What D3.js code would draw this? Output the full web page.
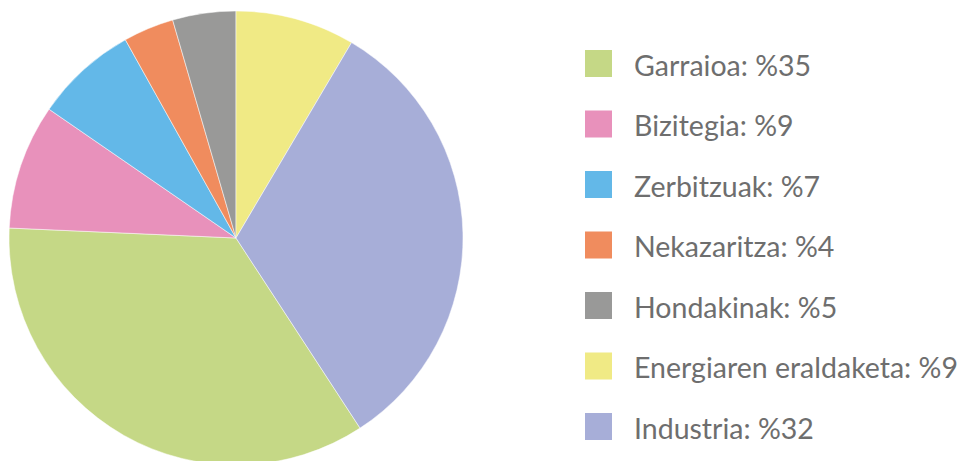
<!DOCTYPE html>
<html>
<head>
<meta charset="utf-8">
<script src="https://cdn.jsdelivr.net/npm/d3@7"></script>
<style>
  html, body { margin: 0; padding: 0; background: #fff; }
  svg { display: block; }
</style>
</head>
<body>
<div id="chart"></div>
<script>
// sektoreak (legendaren ordena)
const categories = ['Garraioa', 'Bizitegia', 'Zerbitzuak', 'Nekazaritza', 'Hondakinak', 'Energiaren eraldaketa', 'Industria'];
// irudian neurtutako angeluak (%)
const values = [34.9, 8.9, 7.3, 3.6, 4.5, 8.5, 32.3];
// legendan agertzen diren etiketak
const labels = ['%35', '%9', '%7', '%4', '%5', '%9', '%32'];
const colors = ['#c5d886', '#e891bb', '#63b8e8', '#f08c5e', '#999998', '#f0ea85', '#a7aed8'];

const data = categories.map((c, i) => ({ name: c, value: values[i], label: labels[i] }));

const width = 960, height = 461;
const cx = 236, cy = 238, radius = 227;

const svg = d3.select('#chart').append('svg')
  .attr('width', width)
  .attr('height', height);

// Garraioa hasten da Energiaren + Industriaren ondoren (goitik, erlojuaren norabidean)
const total = d3.sum(values);
const offset = (values[5] + values[6]) / total * 2 * Math.PI;

const pie = d3.pie()
  .sort(null)
  .value(d => d.value)
  .startAngle(offset)
  .endAngle(offset + 2 * Math.PI);

const arc = d3.arc().innerRadius(0).outerRadius(radius);

const color = d3.scaleOrdinal().domain(categories).range(colors);

svg.append('g')
  .attr('transform', `translate(${cx},${cy})`)
  .selectAll('path')
  .data(pie(data))
  .enter()
  .append('path')
  .attr('d', arc)
  .attr('fill', d => color(d.data.name))
  .attr('stroke', '#fff')
  .attr('stroke-width', 0.5);

// legenda
const y = d3.scalePoint()
  .domain(categories)
  .range([63.5, 426.5]);

const legend = svg.append('g');

const row = legend.selectAll('g.item')
  .data(data)
  .enter()
  .append('g')
  .attr('class', 'item')
  .attr('transform', d => `translate(585,${y(d.name)})`);

row.append('rect')
  .attr('x', 0)
  .attr('y', -13.5)
  .attr('width', 27)
  .attr('height', 27)
  .attr('fill', d => color(d.name));

row.append('text')
  .attr('x', 49)
  .attr('y', 12)
  .text(d => `${d.name}: ${d.label}`)
  .style('font-family', 'Lato, sans-serif')
  .style('font-size', '28.5px')
  .style('fill', '#6e6e6e');
</script>
</body>
</html>
